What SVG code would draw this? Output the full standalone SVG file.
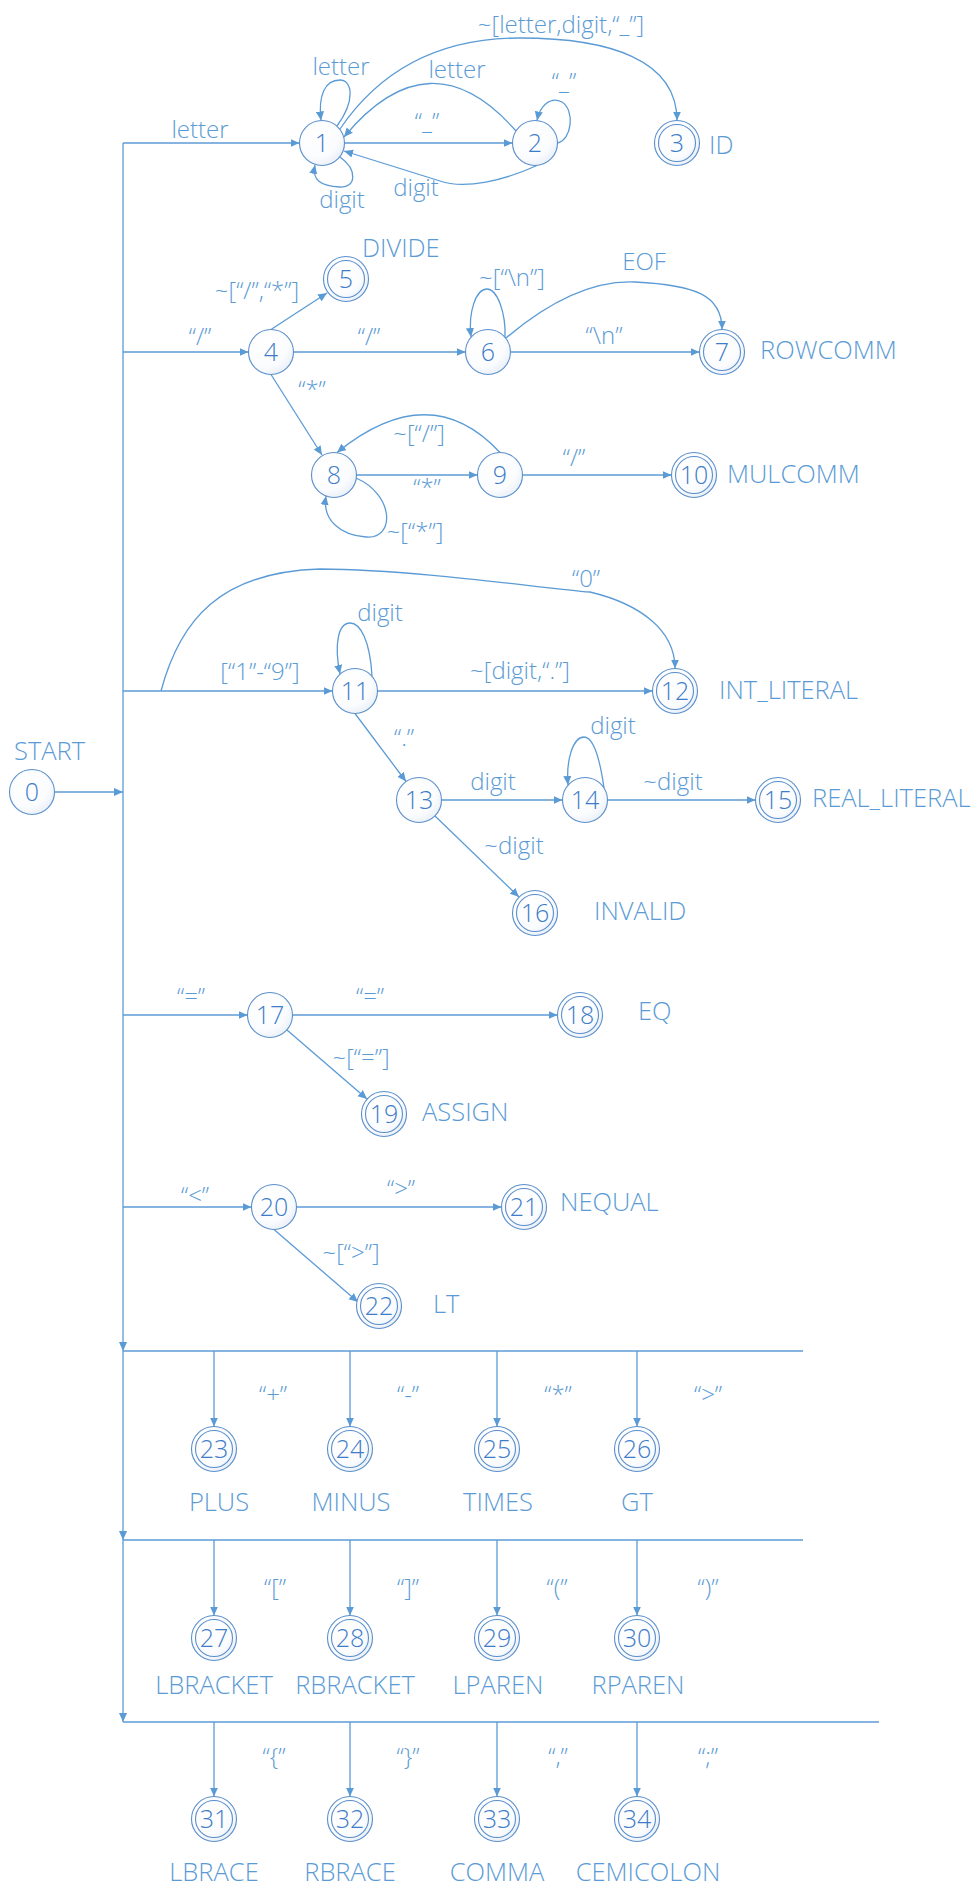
<svg xmlns="http://www.w3.org/2000/svg" width="975" height="1900" viewBox="0 0 975 1900">
<defs>
<radialGradient id="nf" cx="35%" cy="30%" r="75%">
<stop offset="0" stop-color="#ffffff"/>
<stop offset="0.7" stop-color="#fbfcfe"/>
<stop offset="1" stop-color="#eaf0f8"/>
</radialGradient>
<marker id="arr" viewBox="0 0 10 10" refX="10" refY="5" markerWidth="9" markerHeight="9" markerUnits="userSpaceOnUse" orient="auto">
<path d="M0,0.5 L10,5 L0,9.5 z" fill="#5B9BD5"/>
</marker>
</defs>
<style>
.e{fill:none;stroke:#5B9BD5;stroke-width:1.3;marker-end:url(#arr)}
.l{fill:none;stroke:#5B9BD5;stroke-width:1.3}
.c{fill:url(#nf);stroke:#5B8FCB;stroke-width:1.1}
.ci{fill:none;stroke:#5B8FCB;stroke-width:1.1}
.n{font-family:"Open Sans","Noto Sans","Liberation Sans",sans-serif;font-weight:300;font-size:25px;fill:#3D7CC9;text-anchor:middle}
.t{font-family:"Open Sans","Noto Sans","Liberation Sans",sans-serif;font-weight:300;font-size:24px;fill:#5B9BD5;text-anchor:middle}
.k{font-family:"Open Sans","Noto Sans","Liberation Sans",sans-serif;font-weight:300;font-size:25.5px;fill:#5B9BD5}
.km{font-family:"Open Sans","Noto Sans","Liberation Sans",sans-serif;font-weight:300;font-size:25.5px;fill:#5B9BD5;text-anchor:middle}
</style>
<rect width="975" height="1900" fill="#ffffff"/>
<g id="connectors">
<path class="e" d="M123,143 V1351"/>
<path class="e" d="M123,1351 V1540"/>
<path class="e" d="M123,1540 V1722"/>
<path class="e" d="M55,792 H123"/>
<path class="e" d="M123,143 H299.5"/>
<path class="e" d="M123,352 H248.5"/>
<path class="e" d="M123,691 H332.5"/>
<path class="e" d="M123,1015 H247.5"/>
<path class="e" d="M123,1207 H251.5"/>
<path class="l" d="M123,1351 H803"/>
<path class="l" d="M123,1540 H803"/>
<path class="l" d="M123,1722 H879"/>
<path class="e" d="M214,1351 V1426.5"/>
<path class="e" d="M350,1351 V1426.5"/>
<path class="e" d="M497,1351 V1426.5"/>
<path class="e" d="M637,1351 V1426.5"/>
<path class="e" d="M214,1540 V1615.5"/>
<path class="e" d="M350,1540 V1615.5"/>
<path class="e" d="M497,1540 V1615.5"/>
<path class="e" d="M637,1540 V1615.5"/>
<path class="e" d="M214,1722 V1796.5"/>
<path class="e" d="M350,1722 V1796.5"/>
<path class="e" d="M497,1722 V1796.5"/>
<path class="e" d="M637,1722 V1796.5"/>
<path class="e" d="M344.5,143 H512.5"/>
<path class="e" d="M516,131 Q430,33 344,137"/>
<path class="e" d="M537,165.5 C505,180 465,190 440,181 L344,151"/>
<path class="e" d="M337,126 C356,100 352,80 340,80 C325,80 318,95 321,120.5"/>
<path class="e" d="M340,157 C358,170 356,188 340,187 C320,186 312,180 315,165"/>
<path class="e" d="M340,129 C380,70 440,38 520,38 C610,38 677,60 677,120.5"/>
<path class="e" d="M557.5,143 C572,140 575,110 562,102 C550,96 540,106 537,120.5"/>
<path class="e" d="M271,329.5 L327,293"/>
<path class="e" d="M293.5,352 H465.5"/>
<path class="e" d="M271,374.5 L322,455"/>
<path class="e" d="M510.5,352 H699.5"/>
<path class="e" d="M505,338 C506,312 497,289 487,289 C476,289 468,312 471,337"/>
<path class="e" d="M506,338 C545,305 590,280 635,282 C695,285 722,295 722,329.5"/>
<path class="e" d="M356.5,475 H477.5"/>
<path class="e" d="M356,478 C395,495 395,540 366,537 C340,535 322,520 326,496"/>
<path class="e" d="M500,452.5 Q430,377 337,452.5"/>
<path class="e" d="M522.5,475 H671.5"/>
<path class="e" d="M377.5,691 H652.5"/>
<path class="e" d="M161,691 C180,620 220,572 320,569 C420,570 540,588 590,592 C640,604 675,630 675,668.5"/>
<path class="e" d="M372,676 C370,640 360,623 350,623 C338,623 334,645 340,674"/>
<path class="e" d="M355,713.5 L406,781.5"/>
<path class="e" d="M441.5,800 H562.5"/>
<path class="e" d="M604,788 C600,760 594,737 584,737 C573,737 566,760 568,785"/>
<path class="e" d="M607.5,800 H755.5"/>
<path class="e" d="M435,816 L519,897"/>
<path class="e" d="M292.5,1015 H557.5"/>
<path class="e" d="M287,1030 L367,1099"/>
<path class="e" d="M296.5,1207 H501.5"/>
<path class="e" d="M274,1229.5 L358,1302"/>
<text class="t" x="200" y="138">letter</text>
<text class="t" x="341" y="75">letter</text>
<text class="t" x="457" y="78">letter</text>
<text class="t" x="342" y="208">digit</text>
<text class="t" x="416" y="196">digit</text>
<text class="t" x="427" y="130">“_”</text>
<text class="t" x="564" y="90">“_”</text>
<text class="t" x="561" y="33">~[letter,digit,“_”]</text>
<text class="t" x="257" y="299">~[“/”,“*”]</text>
<text class="t" x="200" y="345">“/”</text>
<text class="t" x="369" y="345">“/”</text>
<text class="t" x="512" y="286">~[“\n”]</text>
<text class="t" x="644" y="270">EOF</text>
<text class="t" x="604" y="344">“\n”</text>
<text class="t" x="312" y="398">“*”</text>
<text class="t" x="419" y="442">~[“/”]</text>
<text class="t" x="427" y="496">“*”</text>
<text class="t" x="415" y="540">~[“*”]</text>
<text class="t" x="574" y="466">“/”</text>
<text class="t" x="586" y="587">“0”</text>
<text class="t" x="380" y="621">digit</text>
<text class="t" x="260" y="680">[“1”-“9”]</text>
<text class="t" x="520" y="679">~[digit,“.”]</text>
<text class="t" x="404" y="746">“.”</text>
<text class="t" x="493" y="790">digit</text>
<text class="t" x="613" y="734">digit</text>
<text class="t" x="673" y="790">~digit</text>
<text class="t" x="514" y="854">~digit</text>
<text class="t" x="191" y="1005">“=”</text>
<text class="t" x="370" y="1005">“=”</text>
<text class="t" x="361" y="1066">~[“=”]</text>
<text class="t" x="195" y="1204">“&lt;”</text>
<text class="t" x="401" y="1197">“&gt;”</text>
<text class="t" x="351" y="1261">~[“&gt;”]</text>
<text class="t" x="273" y="1403">“+”</text>
<text class="t" x="408" y="1403">“-”</text>
<text class="t" x="558" y="1403">“*”</text>
<text class="t" x="708" y="1403">“&gt;”</text>
<text class="t" x="275" y="1596">“[”</text>
<text class="t" x="408" y="1596">“]”</text>
<text class="t" x="557" y="1596">“(”</text>
<text class="t" x="708" y="1596">“)”</text>
<text class="t" x="274" y="1765">“{”</text>
<text class="t" x="408" y="1765">“}”</text>
<text class="t" x="558" y="1765">“,”</text>
<text class="t" x="708" y="1765">“;”</text>
</g>
<g id="node-0"><circle class="c" cx="32" cy="792" r="22.5"/><text class="n" x="32" y="801">0</text><text class="k" x="14" y="760">START</text></g>
<g id="node-1"><circle class="c" cx="322" cy="143" r="22.5"/><text class="n" x="322" y="152">1</text></g>
<g id="node-2"><circle class="c" cx="535" cy="143" r="22.5"/><text class="n" x="535" y="152">2</text></g>
<g id="node-3"><circle class="c" cx="677" cy="143" r="22.5"/><circle class="ci" cx="677" cy="143" r="18.5"/><text class="n" x="677" y="152">3</text><text class="k" x="709" y="154">ID</text></g>
<g id="node-4"><circle class="c" cx="271" cy="352" r="22.5"/><text class="n" x="271" y="361">4</text></g>
<g id="node-5"><circle class="c" cx="346" cy="279" r="22.5"/><circle class="ci" cx="346" cy="279" r="18.5"/><text class="n" x="346" y="288">5</text><text class="k" x="362" y="257">DIVIDE</text></g>
<g id="node-6"><circle class="c" cx="488" cy="352" r="22.5"/><text class="n" x="488" y="361">6</text></g>
<g id="node-7"><circle class="c" cx="722" cy="352" r="22.5"/><circle class="ci" cx="722" cy="352" r="18.5"/><text class="n" x="722" y="361">7</text><text class="k" x="760" y="359">ROWCOMM</text></g>
<g id="node-8"><circle class="c" cx="334" cy="475" r="22.5"/><text class="n" x="334" y="484">8</text></g>
<g id="node-9"><circle class="c" cx="500" cy="475" r="22.5"/><text class="n" x="500" y="484">9</text></g>
<g id="node-10"><circle class="c" cx="694" cy="475" r="22.5"/><circle class="ci" cx="694" cy="475" r="18.5"/><text class="n" x="694" y="484">10</text><text class="k" x="727" y="483">MULCOMM</text></g>
<g id="node-11"><circle class="c" cx="355" cy="691" r="22.5"/><text class="n" x="355" y="700">11</text></g>
<g id="node-12"><circle class="c" cx="675" cy="691" r="22.5"/><circle class="ci" cx="675" cy="691" r="18.5"/><text class="n" x="675" y="700">12</text><text class="k" x="719" y="699">INT_LITERAL</text></g>
<g id="node-13"><circle class="c" cx="419" cy="800" r="22.5"/><text class="n" x="419" y="809">13</text></g>
<g id="node-14"><circle class="c" cx="585" cy="800" r="22.5"/><text class="n" x="585" y="809">14</text></g>
<g id="node-15"><circle class="c" cx="778" cy="800" r="22.5"/><circle class="ci" cx="778" cy="800" r="18.5"/><text class="n" x="778" y="809">15</text><text class="k" x="812" y="807">REAL_LITERAL</text></g>
<g id="node-16"><circle class="c" cx="535" cy="913" r="22.5"/><circle class="ci" cx="535" cy="913" r="18.5"/><text class="n" x="535" y="922">16</text><text class="k" x="594" y="920">INVALID</text></g>
<g id="node-17"><circle class="c" cx="270" cy="1015" r="22.5"/><text class="n" x="270" y="1024">17</text></g>
<g id="node-18"><circle class="c" cx="580" cy="1015" r="22.5"/><circle class="ci" cx="580" cy="1015" r="18.5"/><text class="n" x="580" y="1024">18</text><text class="k" x="638" y="1020">EQ</text></g>
<g id="node-19"><circle class="c" cx="384" cy="1114" r="22.5"/><circle class="ci" cx="384" cy="1114" r="18.5"/><text class="n" x="384" y="1123">19</text><text class="k" x="422" y="1121">ASSIGN</text></g>
<g id="node-20"><circle class="c" cx="274" cy="1207" r="22.5"/><text class="n" x="274" y="1216">20</text></g>
<g id="node-21"><circle class="c" cx="524" cy="1207" r="22.5"/><circle class="ci" cx="524" cy="1207" r="18.5"/><text class="n" x="524" y="1216">21</text><text class="k" x="560" y="1211">NEQUAL</text></g>
<g id="node-22"><circle class="c" cx="379" cy="1306" r="22.5"/><circle class="ci" cx="379" cy="1306" r="18.5"/><text class="n" x="379" y="1315">22</text><text class="k" x="433" y="1313">LT</text></g>
<g id="node-23"><circle class="c" cx="214" cy="1449" r="22.5"/><circle class="ci" cx="214" cy="1449" r="18.5"/><text class="n" x="214" y="1458">23</text><text class="km" x="219" y="1511">PLUS</text></g>
<g id="node-24"><circle class="c" cx="350" cy="1449" r="22.5"/><circle class="ci" cx="350" cy="1449" r="18.5"/><text class="n" x="350" y="1458">24</text><text class="km" x="351" y="1511">MINUS</text></g>
<g id="node-25"><circle class="c" cx="497" cy="1449" r="22.5"/><circle class="ci" cx="497" cy="1449" r="18.5"/><text class="n" x="497" y="1458">25</text><text class="km" x="498" y="1511">TIMES</text></g>
<g id="node-26"><circle class="c" cx="637" cy="1449" r="22.5"/><circle class="ci" cx="637" cy="1449" r="18.5"/><text class="n" x="637" y="1458">26</text><text class="km" x="637" y="1511">GT</text></g>
<g id="node-27"><circle class="c" cx="214" cy="1638" r="22.5"/><circle class="ci" cx="214" cy="1638" r="18.5"/><text class="n" x="214" y="1647">27</text><text class="km" x="214" y="1694">LBRACKET</text></g>
<g id="node-28"><circle class="c" cx="350" cy="1638" r="22.5"/><circle class="ci" cx="350" cy="1638" r="18.5"/><text class="n" x="350" y="1647">28</text><text class="km" x="355" y="1694">RBRACKET</text></g>
<g id="node-29"><circle class="c" cx="497" cy="1638" r="22.5"/><circle class="ci" cx="497" cy="1638" r="18.5"/><text class="n" x="497" y="1647">29</text><text class="km" x="498" y="1694">LPAREN</text></g>
<g id="node-30"><circle class="c" cx="637" cy="1638" r="22.5"/><circle class="ci" cx="637" cy="1638" r="18.5"/><text class="n" x="637" y="1647">30</text><text class="km" x="638" y="1694">RPAREN</text></g>
<g id="node-31"><circle class="c" cx="214" cy="1819" r="22.5"/><circle class="ci" cx="214" cy="1819" r="18.5"/><text class="n" x="214" y="1828">31</text><text class="km" x="214" y="1881">LBRACE</text></g>
<g id="node-32"><circle class="c" cx="350" cy="1819" r="22.5"/><circle class="ci" cx="350" cy="1819" r="18.5"/><text class="n" x="350" y="1828">32</text><text class="km" x="350" y="1881">RBRACE</text></g>
<g id="node-33"><circle class="c" cx="497" cy="1819" r="22.5"/><circle class="ci" cx="497" cy="1819" r="18.5"/><text class="n" x="497" y="1828">33</text><text class="km" x="497" y="1881">COMMA</text></g>
<g id="node-34"><circle class="c" cx="637" cy="1819" r="22.5"/><circle class="ci" cx="637" cy="1819" r="18.5"/><text class="n" x="637" y="1828">34</text><text class="km" x="648" y="1881">CEMICOLON</text></g>
</svg>
